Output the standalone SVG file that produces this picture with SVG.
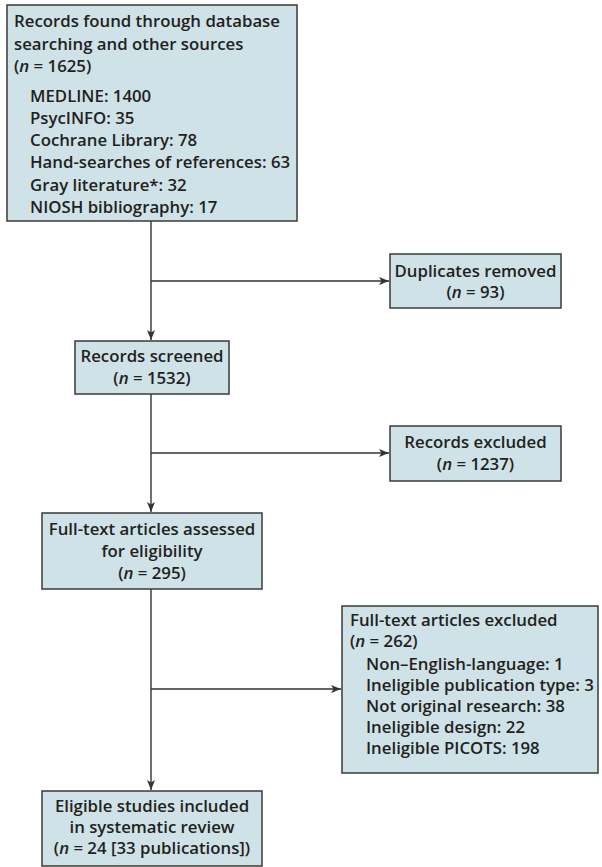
<svg xmlns="http://www.w3.org/2000/svg" width="602" height="867" viewBox="0 0 602 867">
<style>
  .box { fill: #cfe2e7; stroke: #3a3a3a; stroke-width: 1.5; }
  text { font-family: "Open Sans", "Liberation Sans", sans-serif; font-weight: 600; font-size: 16.8px; fill: #231f20; }
  .c { text-anchor: middle; }
  .i { font-style: italic; }
  .ln { stroke: #333; stroke-width: 1.4; fill: none; }
</style>
<defs>
  <marker id="ah" viewBox="0 0 10 8" refX="10" refY="4" markerWidth="10" markerHeight="8" markerUnits="userSpaceOnUse" orient="auto">
    <path d="M0,0 L10,4 L0,8 L2.5,4 Z" fill="#333"/>
  </marker>
</defs>
<rect width="602" height="867" fill="#ffffff"/>
<g id="connectors">
  <line class="ln" x1="151" y1="221" x2="151" y2="340" marker-end="url(#ah)"/>
  <line class="ln" x1="151" y1="281" x2="389" y2="281" marker-end="url(#ah)"/>
  <line class="ln" x1="151" y1="394" x2="151" y2="512" marker-end="url(#ah)"/>
  <line class="ln" x1="151" y1="453" x2="389" y2="453" marker-end="url(#ah)"/>
  <line class="ln" x1="151" y1="589" x2="151" y2="790" marker-end="url(#ah)"/>
  <line class="ln" x1="151" y1="689" x2="341" y2="689" marker-end="url(#ah)"/>
</g>
<g id="records-found">
  <rect class="box" x="7" y="5" width="290" height="216"/>
  <text x="14" y="27">Records found through database</text>
  <text x="14" y="50">searching and other sources</text>
  <text x="14" y="72">(<tspan class="i">n</tspan> = 1625)</text>
  <text x="30" y="102">MEDLINE: 1400</text>
  <text x="30" y="124">PsycINFO: 35</text>
  <text x="30" y="146">Cochrane Library: 78</text>
  <text x="30" y="168">Hand-searches of references: 63</text>
  <text x="30" y="191">Gray literature*: 32</text>
  <text x="30" y="213">NIOSH bibliography: 17</text>
</g>
<g id="duplicates-removed">
  <rect class="box" x="390" y="254" width="171" height="54"/>
  <text class="c" x="475.5" y="277">Duplicates removed</text>
  <text class="c" x="475.5" y="298">(<tspan class="i">n</tspan> = 93)</text>
</g>
<g id="records-screened">
  <rect class="box" x="75" y="341" width="154" height="53"/>
  <text class="c" x="152" y="362">Records screened</text>
  <text class="c" x="152" y="384">(<tspan class="i">n</tspan> = 1532)</text>
</g>
<g id="records-excluded">
  <rect class="box" x="390" y="426" width="171" height="55"/>
  <text class="c" x="475.5" y="448">Records excluded</text>
  <text class="c" x="475.5" y="470">(<tspan class="i">n</tspan> = 1237)</text>
</g>
<g id="fulltext-assessed">
  <rect class="box" x="42" y="513" width="220" height="76"/>
  <text class="c" x="152" y="535">Full-text articles assessed</text>
  <text class="c" x="152" y="557">for eligibility</text>
  <text class="c" x="152" y="579">(<tspan class="i">n</tspan> = 295)</text>
</g>
<g id="fulltext-excluded">
  <rect class="box" x="342" y="606" width="256" height="167"/>
  <text x="350" y="626">Full-text articles excluded</text>
  <text x="350" y="647">(<tspan class="i">n</tspan> = 262)</text>
  <text x="366" y="670">Non–English-language: 1</text>
  <text x="366" y="691">Ineligible publication type: 3</text>
  <text x="366" y="712">Not original research: 38</text>
  <text x="366" y="733">Ineligible design: 22</text>
  <text x="366" y="754">Ineligible PICOTS: 198</text>
</g>
<g id="eligible-studies">
  <rect class="box" x="42" y="791" width="220" height="75"/>
  <text class="c" x="152" y="812">Eligible studies included</text>
  <text class="c" x="152" y="833">in systematic review</text>
  <text class="c" x="152" y="854">(<tspan class="i">n</tspan> = 24 [33 publications])</text>
</g>
</svg>
